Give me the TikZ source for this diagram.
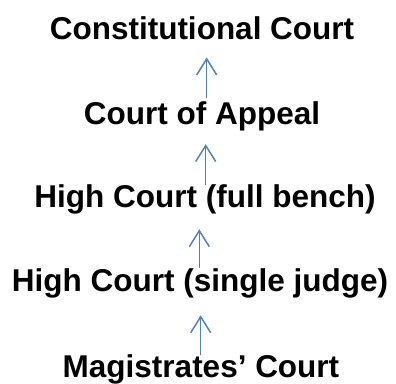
\documentclass[tikz,border=0pt]{standalone}
\usepackage{fontspec}
\setmainfont{Liberation Sans}
\usetikzlibrary{arrows.meta}
\definecolor{arrowblue}{RGB}{79,129,189}
\tikzset{
  court/.style={inner sep=0pt, anchor=base, font=\fontsize{31.5}{36}\selectfont\bfseries},
  uparrow/.style={draw=arrowblue, line width=1.5pt, -{Straight Barb[length=16pt,width=20pt,line width=1.5pt]}}
}
\begin{document}
\begin{tikzpicture}[x=1pt,y=1pt]
\useasboundingbox (0,0) rectangle (396,383);
\node[court] (cc)  at (202,343) {Constitutional Court};
\node[court] (ca)  at (202,258) {Court of Appeal};
\node[court] (hcf) at (205,175) {High Court (full bench)};
\node[court] (hcs) at (200,92)  {High Court (single judge)};
\node[court] (mc)  at (201,5.5) {Magistrates’ Court};
\draw[uparrow] ([xshift=4.7pt,yshift=4pt]ca.north) -- ([xshift=4.7pt,yshift=-17pt]cc.south -| ca.north);
\draw[uparrow] ([xshift=0.7pt]hcf.north) -- ([xshift=0.7pt,yshift=-12.4pt]ca.south -| hcf.north);
\draw[uparrow] ([xshift=-0.7pt]hcs.north) -- ([xshift=-0.7pt,yshift=-14.4pt]hcf.south -| hcs.north);
\draw[uparrow] ([xshift=-0.3pt,yshift=-1pt]mc.north) -- ([xshift=-0.3pt,yshift=-17.4pt]hcs.south -| mc.north);
\end{tikzpicture}
\end{document}
